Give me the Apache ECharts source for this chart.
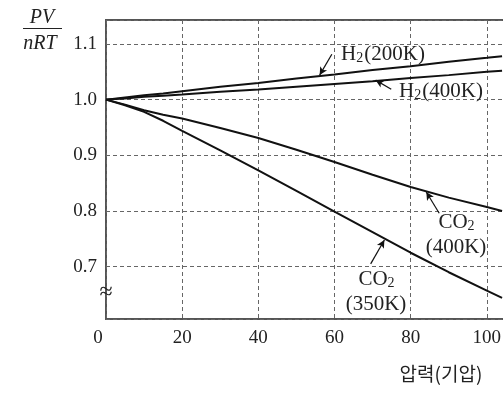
<!DOCTYPE html>
<html><head><meta charset="utf-8">
<script src="https://cdn.jsdelivr.net/npm/echarts@6/dist/echarts.min.js"></script>
<style>html,body{margin:0;padding:0;background:#fff;overflow:hidden;width:503px;height:394px}#c{width:566px;height:394px}</style>
</head><body><div id="c"></div>
<script>
const pressure = [0, 5, 10, 15, 20, 30, 40, 50, 60, 70, 80, 90, 100, 104];
const h2_200K  = [1.0, 1.004, 1.008, 1.011, 1.015, 1.023, 1.030, 1.038, 1.045, 1.053, 1.060, 1.068, 1.075, 1.078];
const h2_400K  = [1.0, 1.002, 1.005, 1.007, 1.009, 1.014, 1.018, 1.023, 1.028, 1.033, 1.039, 1.044, 1.050, 1.052];
const co2_400K = [1.0, 0.991, 0.981, 0.973, 0.966, 0.949, 0.931, 0.910, 0.888, 0.865, 0.843, 0.824, 0.807, 0.800];
const co2_350K = [1.0, 0.990, 0.978, 0.962, 0.944, 0.909, 0.873, 0.836, 0.799, 0.762, 0.725, 0.690, 0.657, 0.644];
const xTicks = [0, 20, 40, 60, 80, 100];
const yTicks = [0.7, 0.8, 0.9, 1.0, 1.1];
// annotation arrows: [from, to] in data coordinates
const arrows = [
  [[59.3, 1.0816], [56.1, 1.044]],
  [[74.9, 1.0188], [70.8, 1.035]],
  [[87.5, 0.796], [84.1, 0.834]],
  [[69.5, 0.705], [73.1, 0.748]]
];

const serif = "'Liberation Serif','Times New Roman',serif";
const chart = echarts.init(document.getElementById('c'), null, {renderer: 'canvas'});
const pairs = ys => pressure.map((p, i) => [p, ys[i]]);
const lineStyle = {color: '#111', width: 2};
const mk = (name, ys) => ({name, type: 'line', data: pairs(ys), showSymbol: false, symbol: 'none', lineStyle, silent: true});
const series = [mk('H2(200K)', h2_200K), mk('H2(400K)', h2_400K), mk('CO2(400K)', co2_400K), mk('CO2(350K)', co2_350K)];
series[0].markLine = {
  silent: true, symbol: ['none', 'arrow'], symbolSize: [6, 8], animation: false,
  lineStyle: {color: '#111', width: 1.2, type: 'solid'}, label: {show: false},
  data: arrows.map(a => [{coord: a[0]}, {coord: a[1]}])
};

function txt(x, y, text) {
  return {type: 'text', x, y, z: 100, style: {text, fontFamily: serif, fontSize: 21, fill: '#222', align: 'center', verticalAlign: 'middle',
    rich: {s: {fontFamily: serif, fontSize: 14, fill: '#222', padding: [9, 1, 0, 0]}, n: {fontFamily: serif, fontSize: 21, fill: '#222'}}}};
}

chart.setOption({
  animation: false,
  grid: {left: 106, top: 20, bottom: 75, right: 0, show: true, borderColor: '#555', borderWidth: 2, backgroundColor: 'transparent'},
  xAxis: {
    type: 'value', min: 0, max: 120, interval: 20,
    axisLine: {show: false}, axisTick: {show: false},
    splitLine: {show: true, lineStyle: {color: '#666', width: 1, type: [4, 3]}},
    axisLabel: {
      margin: 10, color: '#222', fontFamily: serif, fontSize: 19,
      formatter: v => xTicks.indexOf(v) < 0 ? '' : (v === 0 ? '{o|0}' : String(v)),
      rich: {o: {fontFamily: serif, fontSize: 19, color: '#222', padding: [0, 16, 0, 0]}}
    }
  },
  yAxis: {
    type: 'value', min: 0.606, max: 1.143,
    axisLine: {show: false}, axisTick: {show: false},
    splitLine: {show: true, lineStyle: {color: '#666', width: 1, type: [4, 3]}},
    axisLabel: {
      margin: 9, color: '#222', fontFamily: serif, fontSize: 19, showMinLabel: false, showMaxLabel: false,
      formatter: v => yTicks.some(t => Math.abs(t - v) < 1e-6) ? v.toFixed(1) : ''
    }
  },
  series,
  graphic: [
    {type: 'text', x: 42, y: 18, style: {text: 'PV', fontFamily: serif, fontStyle: 'italic', fontSize: 20, fill: '#222', align: 'center', verticalAlign: 'middle'}},
    {type: 'line', shape: {x1: 23, y1: 28.5, x2: 62, y2: 28.5}, style: {stroke: '#222', lineWidth: 1.2}},
    {type: 'text', x: 40, y: 44, style: {text: 'nRT', fontFamily: serif, fontStyle: 'italic', fontSize: 20, fill: '#222', align: 'center', verticalAlign: 'middle'}},
    {type: 'text', x: 106, y: 293, z: 100, style: {text: '≈', fontFamily: serif, fontSize: 24, fill: '#222', align: 'center', verticalAlign: 'middle'}},
    txt(383, 54, '{n|H}{s|2}{n|(200K)}'),
    txt(441, 91, '{n|H}{s|2}{n|(400K)}'),
    txt(457, 222, '{n|CO}{s|2}'),
    txt(456, 247, '{n|(400K)}'),
    txt(377, 279, '{n|CO}{s|2}'),
    txt(376, 304, '{n|(350K)}'),
    {type: 'text', x: 441, y: 374, style: {text: '압력(기압)', fontFamily: "'Noto Sans CJK KR','Noto Sans',sans-serif", fontSize: 19, fill: '#222', align: 'center', verticalAlign: 'middle'}}
  ]
});
</script></body></html>
